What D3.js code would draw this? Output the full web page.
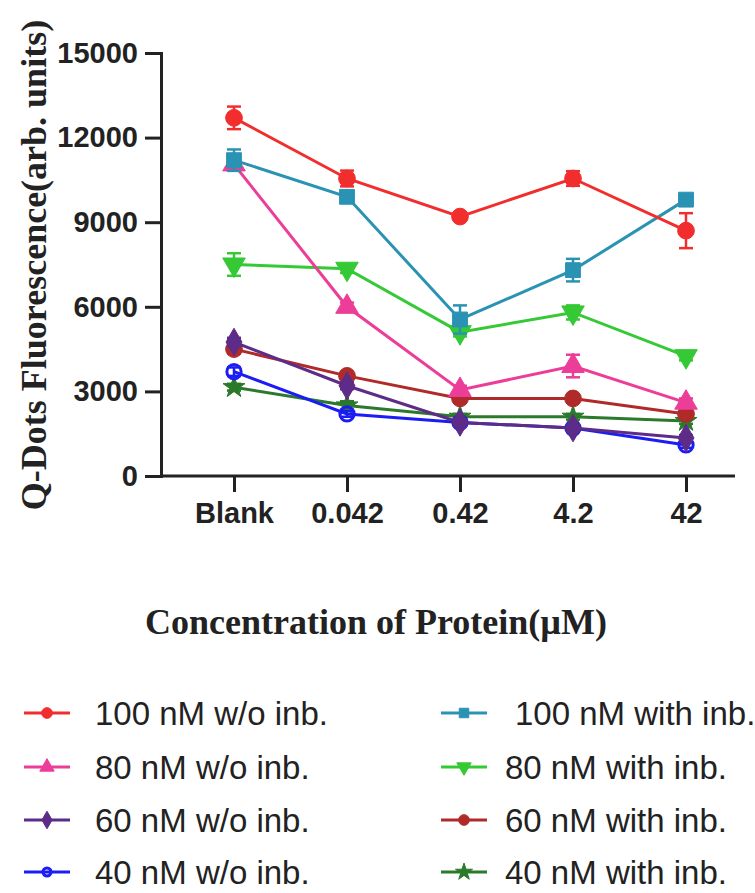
<!DOCTYPE html>
<html>
<head>
<meta charset="utf-8">
<script src="https://cdn.jsdelivr.net/npm/d3@7"></script>
<style>
  body { margin: 0; background: #fff; }
  svg { display: block; }
</style>
</head>
<body>
<svg id="chart"></svg>
<script>
var categories = ["Blank", "0.042", "0.42", "4.2", "42"];
var yTicks = [0, 3000, 6000, 9000, 12000, 15000];

var seriesNames = ["100 nM w/o inb.", "80 nM w/o inb.", "60 nM w/o inb.", "40 nM w/o inb.",
                   "100 nM with inb.", "80 nM with inb.", "60 nM with inb.", "40 nM with inb."];

var w100 = [12700, 10550, 9200, 10550, 8700];
var w100Err = [400, 280, 100, 260, 620];
var w80 = [11050, 6000, 3050, 3900, 2600];
var w80Err = [150, 150, 150, 400, 150];
var w60 = [4750, 3200, 1900, 1700, 1350];
var w60Err = [150, 120, 100, 100, 100];
var w40 = [3700, 2200, 1900, 1700, 1100];
var w40Err = [150, 100, 100, 100, 100];
var i100 = [11200, 9900, 5550, 7300, 9800];
var i100Err = [380, 150, 500, 400, 150];
var i80 = [7500, 7350, 5100, 5800, 4250];
var i80Err = [400, 150, 150, 250, 150];
var i60 = [4500, 3550, 2750, 2750, 2200];
var i60Err = [150, 100, 100, 100, 100];
var i40 = [3150, 2500, 2100, 2100, 1950];
var i40Err = [120, 150, 100, 100, 100];

var series = [
  {name: seriesNames[0], values: w100, err: w100Err, color: "#f22d2d", shape: "circle"},
  {name: seriesNames[1], values: w80, err: w80Err, color: "#ec3d98", shape: "triangle"},
  {name: seriesNames[2], values: w60, err: w60Err, color: "#5c2c88", shape: "diamond"},
  {name: seriesNames[3], values: w40, err: w40Err, color: "#1c1cf5", shape: "open"},
  {name: seriesNames[4], values: i100, err: i100Err, color: "#2a93b3", shape: "square"},
  {name: seriesNames[5], values: i80, err: i80Err, color: "#35c935", shape: "down"},
  {name: seriesNames[6], values: i60, err: i60Err, color: "#b02a2a", shape: "circle"},
  {name: seriesNames[7], values: i40, err: i40Err, color: "#2b7a2b", shape: "star"}
];
// draw order: back to front
var drawOrder = [7, 6, 3, 2, 5, 1, 4, 0];

var svg = d3.select("#chart")
    .attr("width", 755)
    .attr("height", 893);

var x = d3.scalePoint()
    .domain(categories)
    .range([234, 686]);

var y = d3.scaleLinear()
    .domain([0, 15000])
    .range([476, 53]);

var axisLeft = 161, axisRight = 735;

// axes
var gy = svg.append("g")
    .attr("transform", "translate(" + axisLeft + ",0)")
    .call(d3.axisLeft(y).tickValues(yTicks).tickSize(16).tickPadding(7).tickFormat(d3.format("d")));
gy.select(".domain").attr("stroke-width", 3).attr("stroke", "#222");
gy.selectAll(".tick line").attr("stroke-width", 3).attr("stroke", "#222");
gy.selectAll(".tick text")
    .attr("font-family", "Liberation Sans, Arial, sans-serif")
    .attr("font-weight", "bold")
    .attr("font-size", 29)
    .attr("fill", "#222");

var gx = svg.append("g")
    .attr("transform", "translate(0," + y(0) + ")")
    .call(d3.axisBottom(x).tickSize(16).tickPadding(10));
gx.select(".domain").remove();
gx.append("line")
    .attr("x1", axisLeft).attr("x2", axisRight)
    .attr("stroke", "#222").attr("stroke-width", 3);
gx.selectAll(".tick line").attr("stroke-width", 3).attr("stroke", "#222");
gx.selectAll(".tick text")
    .attr("font-family", "Liberation Sans, Arial, sans-serif")
    .attr("font-weight", "bold")
    .attr("font-size", 29)
    .attr("fill", "#222");

// axis titles
svg.append("text")
    .attr("transform", "translate(46,265) rotate(-90)")
    .attr("text-anchor", "middle")
    .attr("font-family", "Liberation Serif, Times New Roman, serif")
    .attr("font-weight", "bold")
    .attr("font-size", 36)
    .attr("fill", "#222")
    .text("Q-Dots Fluorescence(arb. units)");

svg.append("text")
    .attr("x", 376)
    .attr("y", 634)
    .attr("text-anchor", "middle")
    .attr("font-family", "Liberation Serif, Times New Roman, serif")
    .attr("font-weight", "bold")
    .attr("font-size", 36)
    .attr("fill", "#222")
    .text("Concentration of Protein(\u00b5M)");

function symbolPath(shape, size) {
  var type = d3.symbolCircle;
  if (shape === "triangle" || shape === "down") type = d3.symbolTriangle;
  if (shape === "diamond") type = d3.symbolDiamond;
  if (shape === "square") type = d3.symbolSquare;
  if (shape === "star") type = d3.symbolStar;
  return d3.symbol().type(type).size(size)();
}

function drawMarker(g, s, cx, cy, size) {
  return g.append("path")
      .attr("d", symbolPath(s.shape, size))
      .attr("transform", "translate(" + cx + "," + cy + ")" + (s.shape === "down" ? " rotate(180)" : ""))
      .attr("fill", s.shape === "open" ? "none" : s.color)
      .attr("stroke", s.color)
      .attr("stroke-width", s.shape === "open" ? 3 : 1);
}

var line = d3.line()
    .x(function(d, i) { return x(categories[i]); })
    .y(function(d) { return y(d); });

drawOrder.forEach(function(k) {
  var s = series[k];
  var g = svg.append("g");

  // error bars
  s.values.forEach(function(v, i) {
    var cx = x(categories[i]);
    var e = s.err[i];
    g.append("line")
        .attr("x1", cx).attr("x2", cx)
        .attr("y1", y(v - e)).attr("y2", y(v + e))
        .attr("stroke", s.color).attr("stroke-width", 2.5);
    [v - e, v + e].forEach(function(c) {
      g.append("line")
          .attr("x1", cx - 7).attr("x2", cx + 7)
          .attr("y1", y(c)).attr("y2", y(c))
          .attr("stroke", s.color).attr("stroke-width", 2.5);
    });
  });

  g.append("path")
      .datum(s.values)
      .attr("d", line)
      .attr("fill", "none")
      .attr("stroke", s.color)
      .attr("stroke-width", 3);

  s.values.forEach(function(v, i) {
    var sz = s.shape === "open" ? 160 : (s.shape === "star" ? 150 : 220);
    drawMarker(g, s, x(categories[i]), y(v), sz);
  });
});

// legend
var legendCols = [{lineX: 24, textX: 95}, {lineX: 441, textX: 505}];
var legendRows = [713, 767, 820, 872];

series.forEach(function(s, k) {
  var col = legendCols[Math.floor(k / 4)];
  var ry = legendRows[k % 4];
  var g = svg.append("g");
  g.append("line")
      .attr("x1", col.lineX).attr("x2", col.lineX + 46)
      .attr("y1", ry).attr("y2", ry)
      .attr("stroke", s.color).attr("stroke-width", 3);
  drawMarker(g, s, col.lineX + 23, ry, s.shape === "open" ? 50 : 90);
  g.append("text")
      .attr("x", col.textX + (k === 4 ? 10 : 0))
      .attr("y", ry)
      .attr("dy", "0.35em")
      .attr("font-family", "Liberation Sans, Arial, sans-serif")
      .attr("font-size", 33)
      .attr("fill", "#222")
      .text(s.name);
});
</script>
</body>
</html>
